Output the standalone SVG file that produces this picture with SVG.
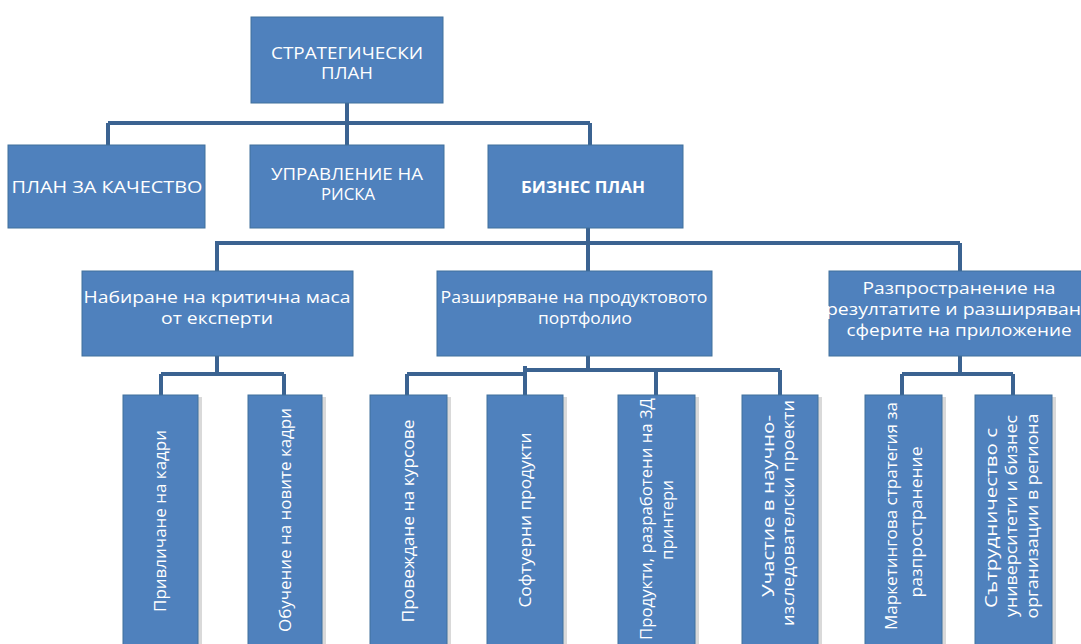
<svg xmlns="http://www.w3.org/2000/svg" width="1081" height="644" viewBox="0 0 1081 644">
<style>
.box{fill:#4F81BD;stroke:#41719C;stroke-width:1}
.vbox{fill:#4F81BD;stroke:#41719C;stroke-width:1}
.shadow{fill:#D9D9D9}
.t{font-family:"Open Sans","Noto Sans","DejaVu Sans",sans-serif;fill:#FFFFFF;text-anchor:middle}
.cap{font-size:16px}
.l3{font-size:16px}
.l4{font-size:16px}
.conn{fill:none;stroke:#3B6391;stroke-width:4}
</style>
<rect width="1081" height="644" fill="#FFFFFF"/>
<g id="connectors" class="conn">
  <path d="M347,103 V145 M108,123 H590 M108,123 V145 M590,123 V145"/>
  <path d="M588,228 V271 M215,243 H960 M217,243 V271 M960,243 V271"/>
  <path d="M217,356 V374 M161,374 H284 M161,374 V395 M284,374 V395"/>
  <path d="M588,356 V370 M407,374 H525 M525,370 H780 M525,366 V395 M407,374 V395 M656,370 V395 M780,370 V395"/>
  <path d="M960,356 V374 M902,374 H1013 M902,374 V395 M1013,374 V395"/>
</g>
<g id="n-strategic">
  <rect class="box" x="251" y="17" width="192" height="86"/>
  <text class="t cap" x="347" y="59" textLength="152" lengthAdjust="spacingAndGlyphs">СТРАТЕГИЧЕСКИ</text>
  <text class="t cap" x="347" y="79" textLength="52" lengthAdjust="spacingAndGlyphs">ПЛАН</text>
</g>
<g id="n-quality">
  <rect class="box" x="8" y="145" width="197" height="83"/>
  <text class="t cap" x="107" y="193" textLength="191" lengthAdjust="spacingAndGlyphs">ПЛАН ЗА КАЧЕСТВО</text>
</g>
<g id="n-risk">
  <rect class="box" x="250" y="145" width="194" height="83"/>
  <text class="t cap" x="347" y="180" textLength="152" lengthAdjust="spacingAndGlyphs">УПРАВЛЕНИЕ НА</text>
  <text class="t cap" x="348" y="200" textLength="54" lengthAdjust="spacingAndGlyphs">РИСКА</text>
</g>
<g id="n-business">
  <rect class="box" x="488" y="145" width="195" height="83"/>
  <text class="t cap" x="583" y="193" font-weight="bold" textLength="124" lengthAdjust="spacingAndGlyphs">БИЗНЕС ПЛАН</text>
</g>
<g id="n-experts">
  <rect class="box" x="82" y="271" width="271" height="85"/>
  <text class="t l3" x="217" y="303" textLength="267" lengthAdjust="spacingAndGlyphs">Набиране на критична маса</text>
  <text class="t l3" x="217" y="324" textLength="112" lengthAdjust="spacingAndGlyphs">от експерти</text>
</g>
<g id="n-portfolio">
  <rect class="box" x="437" y="271" width="275" height="85"/>
  <text class="t l3" x="574" y="303" textLength="267" lengthAdjust="spacingAndGlyphs">Разширяване на продуктовото</text>
  <text class="t l3" x="585" y="324" textLength="94" lengthAdjust="spacingAndGlyphs">портфолио</text>
</g>
<g id="n-dissemination">
  <rect class="box" x="829" y="271" width="262" height="85"/>
  <text class="t l3" x="959" y="294" textLength="193" lengthAdjust="spacingAndGlyphs">Разпространение на</text>
  <text class="t l3" x="959" y="315" textLength="266" lengthAdjust="spacingAndGlyphs">резултатите и разширяване</text>
  <text class="t l3" x="959" y="336" textLength="225" lengthAdjust="spacingAndGlyphs">сферите на приложение</text>
</g>
<g id="n-attract">
  <rect class="shadow" x="198" y="397" width="4" height="247"/>
  <rect class="vbox" x="123" y="395" width="75" height="260"/>
  <text class="t l4" transform="translate(160,521) rotate(-90)" dy="0.35em" textLength="182" lengthAdjust="spacingAndGlyphs">Привличане на кадри</text>
</g>
<g id="n-training">
  <rect class="shadow" x="322" y="397" width="4" height="247"/>
  <rect class="vbox" x="248" y="395" width="74" height="260"/>
  <text class="t l4" transform="translate(285,520) rotate(-90)" dy="0.35em" textLength="224" lengthAdjust="spacingAndGlyphs">Обучение на новите кадри</text>
</g>
<g id="n-courses">
  <rect class="shadow" x="447" y="397" width="4" height="247"/>
  <rect class="vbox" x="370" y="395" width="77" height="260"/>
  <text class="t l4" transform="translate(408,521) rotate(-90)" dy="0.35em" textLength="203" lengthAdjust="spacingAndGlyphs">Провеждане на курсове</text>
</g>
<g id="n-software">
  <rect class="shadow" x="563" y="397" width="4" height="247"/>
  <rect class="vbox" x="487" y="395" width="76" height="260"/>
  <text class="t l4" transform="translate(525,520) rotate(-90)" dy="0.35em" textLength="175" lengthAdjust="spacingAndGlyphs">Софтуерни продукти</text>
</g>
<g id="n-3d">
  <rect class="shadow" x="695" y="397" width="4" height="247"/>
  <rect class="vbox" x="618" y="395" width="77" height="260"/>
  <text class="t l4" transform="translate(646,519) rotate(-90)" dy="0.35em" textLength="242" lengthAdjust="spacingAndGlyphs">Продукти, разработени на 3Д</text>
  <text class="t l4" transform="translate(667,520) rotate(-90)" dy="0.35em" textLength="80" lengthAdjust="spacingAndGlyphs">принтери</text>
</g>
<g id="n-research">
  <rect class="shadow" x="818" y="397" width="4" height="247"/>
  <rect class="vbox" x="742" y="395" width="76" height="260"/>
  <text class="t l4" transform="translate(768,506) rotate(-90)" dy="0.35em" textLength="182" lengthAdjust="spacingAndGlyphs">Участие в научно-</text>
  <text class="t l4" transform="translate(788,513) rotate(-90)" dy="0.35em" textLength="226" lengthAdjust="spacingAndGlyphs">изследователски проекти</text>
</g>
<g id="n-marketing">
  <rect class="shadow" x="942" y="397" width="4" height="247"/>
  <rect class="vbox" x="865" y="395" width="77" height="260"/>
  <text class="t l4" transform="translate(891,516) rotate(-90)" dy="0.35em" textLength="228" lengthAdjust="spacingAndGlyphs">Маркетингова стратегия за</text>
  <text class="t l4" transform="translate(916,522) rotate(-90)" dy="0.35em" textLength="151" lengthAdjust="spacingAndGlyphs">разпространение</text>
</g>
<g id="n-cooperation">
  <rect class="shadow" x="1052" y="397" width="4" height="247"/>
  <rect class="vbox" x="975" y="395" width="77" height="260"/>
  <text class="t l4" transform="translate(991,518) rotate(-90)" dy="0.35em" textLength="180" lengthAdjust="spacingAndGlyphs">Сътрудничество с</text>
  <text class="t l4" transform="translate(1011,516) rotate(-90)" dy="0.35em" textLength="202" lengthAdjust="spacingAndGlyphs">университети и бизнес</text>
  <text class="t l4" transform="translate(1032,516) rotate(-90)" dy="0.35em" textLength="205" lengthAdjust="spacingAndGlyphs">организации в региона</text>
</g>
</svg>
